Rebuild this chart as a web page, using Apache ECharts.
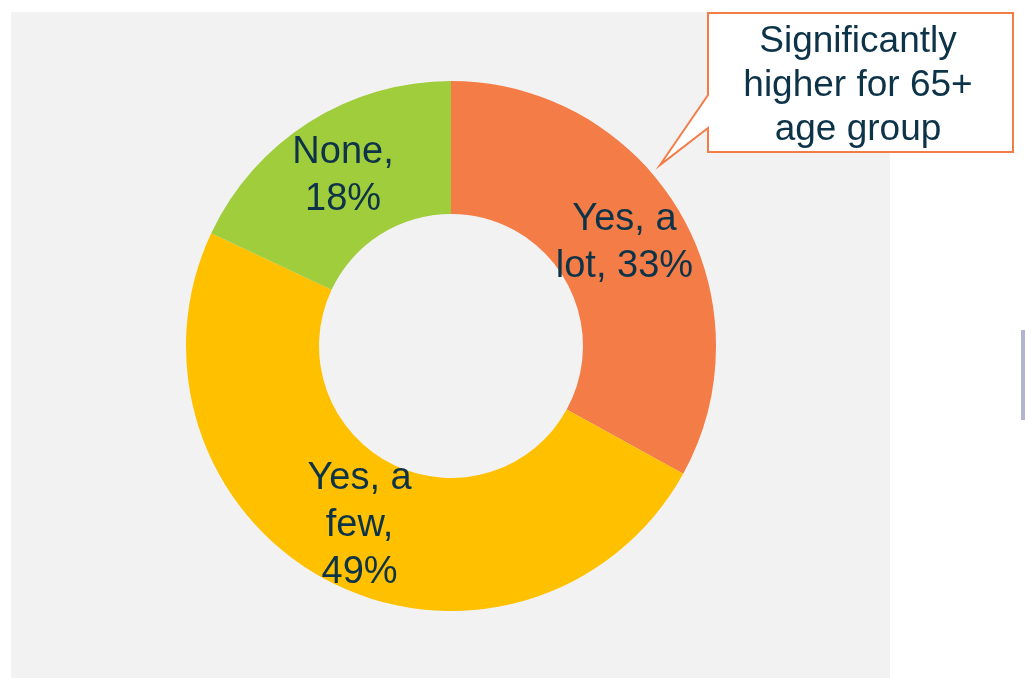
<!DOCTYPE html>
<html><head><meta charset="utf-8">
<script src="https://cdn.jsdelivr.net/npm/echarts@6/dist/echarts.min.js"></script>
<style>html,body{margin:0;padding:0;background:#fff}#c{width:1025px;height:678px}</style>
</head><body><div id="c"></div>
<script>
const categories = ['Yes, a\nlot, 33%', 'Yes, a\nfew,\n49%', 'None,\n18%'];
const values = [33, 49, 18];
const colors = ['#F47C46', '#FFC000', '#A0CD3C'];
const calloutText = 'Significantly\nhigher for 65+\nage group';

const chart = echarts.init(document.getElementById('c'), null, {renderer: 'canvas'});
chart.setOption({
  backgroundColor: '#ffffff',
  animation: false,
  graphic: [
    {type: 'rect', z: -10, shape: {x: 11, y: 12, width: 879, height: 666}, style: {fill: '#F2F2F2'}},
    {type: 'rect', z: -10, shape: {x: 1021, y: 330, width: 4, height: 90}, style: {fill: '#B4B4CC'}},
    {type: 'polygon', z: 10, shape: {points: [[708,13],[1013,13],[1013,152],[708,152],[708,128],[660,165],[708,95]]},
     style: {fill: '#ffffff', stroke: '#F47C46', lineWidth: 2}},
    {type: 'text', z: 11, x: 858, y: 86, style: {text: calloutText, font: '37px "Liberation Sans", Arial, sans-serif',
      fill: '#0D3349', align: 'center', verticalAlign: 'middle', lineHeight: 44}}
  ],
  series: [{
    type: 'pie',
    center: [451, 346],
    radius: [132, 265],
    startAngle: 90,
    clockwise: true,
    avoidLabelOverlap: false,
    label: {show: true, position: 'inside', formatter: '{b}', color: '#0D3349',
      fontFamily: '"Liberation Sans", Arial, sans-serif', fontSize: 38, lineHeight: 47},
    labelLine: {show: false},
    itemStyle: {borderWidth: 0},
    emphasis: {disabled: true},
    data: categories.map((c, i) => ({name: c, value: values[i], itemStyle: {color: colors[i]}}))
  }]
});
</script></body></html>
